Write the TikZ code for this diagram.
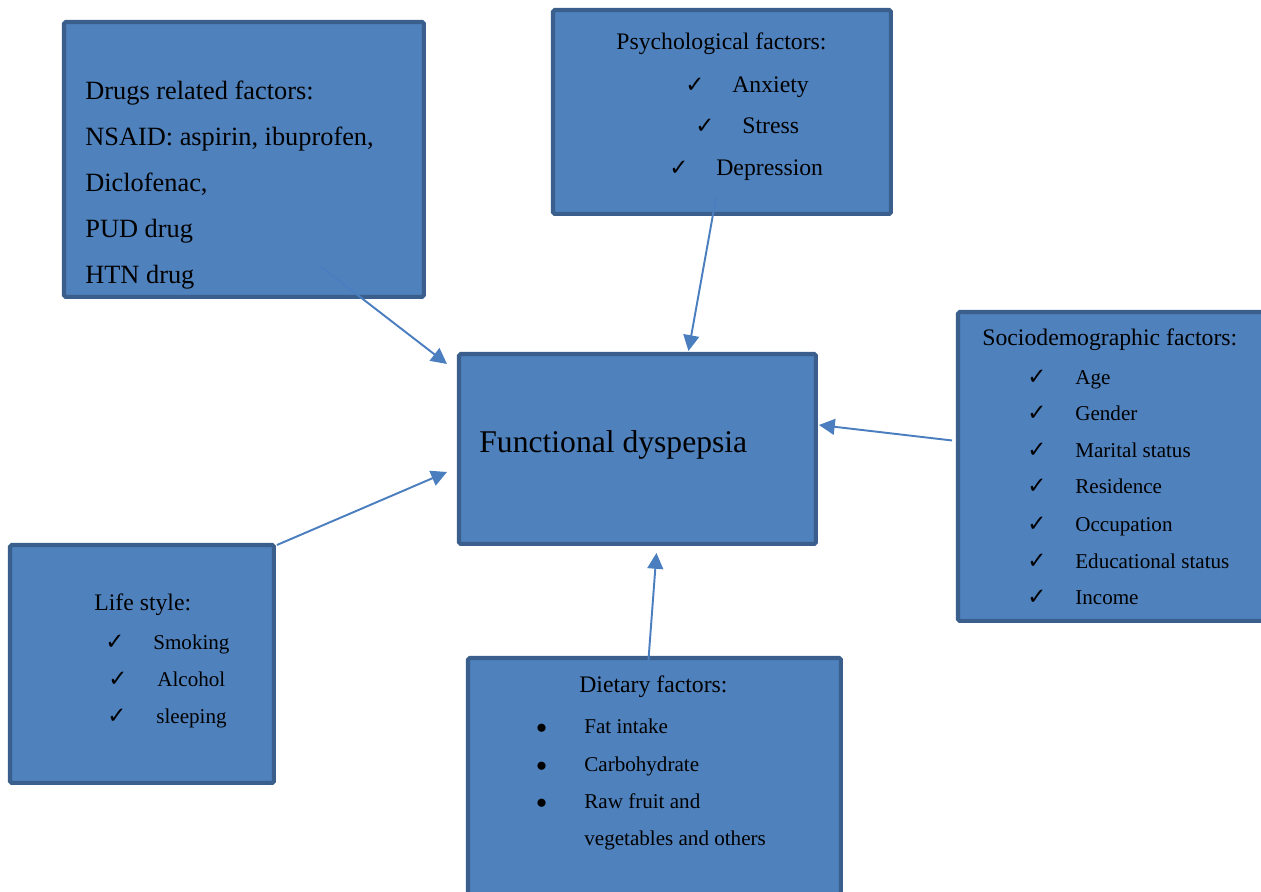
\documentclass[tikz,border=0pt]{standalone}
\usepackage{amssymb}
\usepackage{fontspec}
\setmainfont{Liberation Serif}
\newfontfamily\symfont{DejaVu Sans}
\usepackage{tikz}
\usetikzlibrary{
  arrows.meta,
  positioning
}
\definecolor{boxfill}{HTML}{4F81BD}
\definecolor{boxedge}{HTML}{3A5F8C}
\definecolor{linkcolor}{HTML}{4A7EBF}

\begin{document}
\begin{tikzpicture}[
  x=0.02cm, y=-0.02cm,
  factor/.style={draw=boxedge, fill=boxfill, line width=2.3pt, rounded corners=1pt, anchor=north west, inner sep=0pt, outer sep=0pt},
  lbltitle/.style={anchor=base west, inner sep=0pt, font=\fontsize{13.5}{16}\selectfont},
  lblitem/.style={anchor=base west, inner sep=0pt, font=\fontsize{12}{14}\selectfont},
  lblcheck/.style={anchor=base west, inner sep=0pt, font=\symfont\fontsize{13}{14}\selectfont},
  link/.style={draw=linkcolor, line width=1.1pt, -{Triangle[length=9pt,width=9pt]}},
]
  \clip (0,0) rectangle (1261,892);

  % Central box
  \node[factor, minimum width=7.14cm, minimum height=3.8cm] (fd) at (459,354) {};
  \node[anchor=base west, inner sep=0pt, font=\fontsize{18}{22}\selectfont] (fdtxt) at (479,452) {Functional dyspepsia};

  % Drugs
  \node[factor, minimum width=7.2cm, minimum height=5.5cm] (drugs) at (64,22) {};
  \node[anchor=base west, inner sep=0pt, font=\fontsize{15}{18}\selectfont] (drugstxt) at (85,100) {Drugs related factors:};
  \foreach \y/\txt [count=\i] in {146/{NSAID: aspirin, ibuprofen,}, 192/{Diclofenac,}, 237/{PUD drug}, 283/{HTN drug}}
    \node[anchor=base west, inner sep=0pt, font=\fontsize{15}{18}\selectfont] (drug\i) at (85,\y) {\txt};

  % Psychological
  \node[factor, minimum width=6.76cm, minimum height=4.08cm] (psych) at (553,10) {};
  \node[lbltitle] (psychtxt) at (616,50) {Psychological factors:};
  \foreach \cx/\tx/\y/\txt [count=\i] in {685/732/92/Anxiety, 695/742/133/Stress, 669/716/175/Depression} {
    \node[lblcheck] (psychck\i) at (\cx,\y) {✓};
    \node[lbltitle] (psych\i) at (\tx,\y) {\txt};
  }

  % Sociodemographic
  \node[factor, minimum width=6.44cm, minimum height=6.18cm] (socio) at (958,312) {};
  \node[lbltitle] (sociotxt) at (982,345) {Sociodemographic factors:};
  \foreach \y/\txt [count=\i] in {384/Age, 420/Gender, 457/Marital status, 493/Residence, 531/Occupation, 568/Educational status, 604/Income} {
    \node[lblcheck] (sociock\i) at (1027,\y) {✓};
    \node[lblitem] (socio\i) at (1075,\y) {\txt};
  }

  % Life style
  \node[factor, minimum width=5.28cm, minimum height=4.76cm] (life) at (10,545) {};
  \node[lbltitle] (lifetxt) at (94,610) {Life style:};
  \foreach \cx/\tx/\y/\txt [count=\i] in {105/153/649/Smoking, 108/157/686/Alcohol, 107/156/723/sleeping} {
    \node[lblcheck] (lifeck\i) at (\cx,\y) {✓};
    \node[lblitem] (life\i) at (\tx,\y) {\txt};
  }

  % Dietary
  \node[factor, minimum width=7.46cm, minimum height=5.4cm] (diet) at (468,658) {};
  \node[lbltitle] (diettxt) at (579,692) {Dietary factors:};
  \foreach \y/\txt [count=\i] in {733/Fat intake, 771/Carbohydrate, 808/Raw fruit and} {
    \node[lblitem, font=\fontsize{13}{14}\selectfont] (dietbl\i) at (536,\y) {$\bullet$};
    \node[lblitem] (diet\i) at (584,\y) {\txt};
  }
  \node[lblitem] (diet4) at (584,845) {vegetables and others};

  % Links to the central box
  \draw[link] ([shift={(-104,-31)}]drugs.south east) -- ([shift={(-12,10)}]fd.north west);
  \draw[link] ([shift={(-6,-16)}]psych.south) -- ([shift={(51,-3)}]fd.north);
  \draw[link] ([shift={(-6,-26)}]socio.west) -- ([shift={(3,-24)}]fd.east);
  \draw[link] ([shift={(3,0)}]life.north east) -- ([shift={(-12,23)}]fd.west);
  \draw[link] ([shift={(-6,2)}]diet.north) -- ([shift={(19,9)}]fd.south);
\end{tikzpicture}
\end{document}
